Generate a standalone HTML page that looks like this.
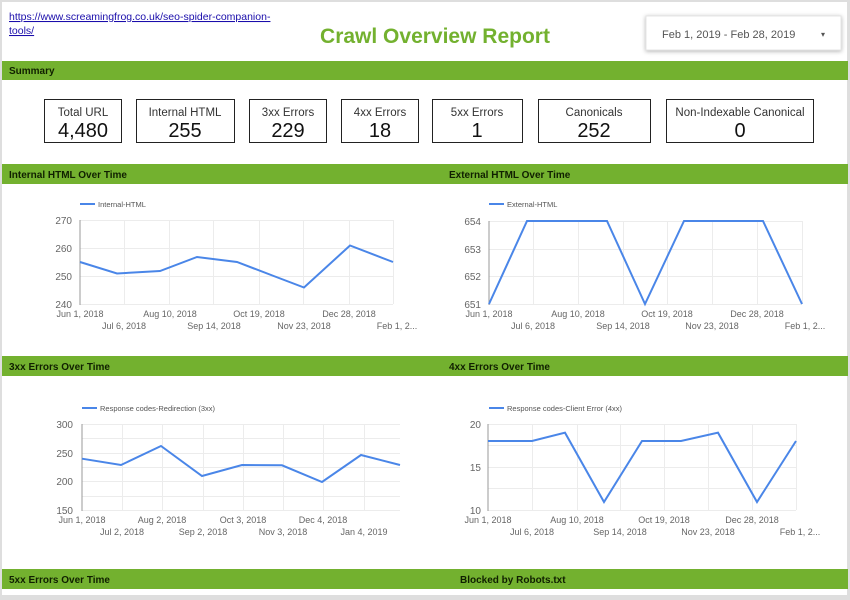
<!DOCTYPE html>
<html><head><style>
body{margin:0;width:850px;height:595px;overflow:hidden;background:#dedede;font-family:"Liberation Sans",sans-serif}
</style></head><body>
<svg width="850" height="595" xmlns="http://www.w3.org/2000/svg" font-family="Liberation Sans, sans-serif">
<rect x="2" y="2" width="845" height="593" fill="#fff"/>
<text x="9" y="20" font-size="10.5" fill="#1a0dab" text-decoration="underline">https://www.screamingfrog.co.uk/seo-spider-companion-</text>
<text x="9" y="34" font-size="10.5" fill="#1a0dab" text-decoration="underline">tools/</text>
<text x="435" y="43" font-size="21" font-weight="bold" fill="#73b12f" text-anchor="middle">Crawl Overview Report</text>
<rect x="646" y="16" width="195" height="34" fill="#fff" stroke="#e4e4e4" style="filter:drop-shadow(0 1px 2px rgba(0,0,0,0.3))"/>
<text x="662" y="38" font-size="11" fill="#555">Feb 1, 2019 - Feb 28, 2019</text>
<text x="821" y="37" font-size="8" fill="#555">▾</text>
<g fill="#73b12f">
<rect x="2" y="61" width="846" height="19"/>
<rect x="2" y="164" width="846" height="20"/>
<rect x="2" y="356" width="846" height="20"/>
<rect x="2" y="569" width="846" height="20"/>
</g>
<g font-size="10" font-weight="bold" fill="#102000">
<text x="9" y="74">Summary</text>
<text x="9" y="178">Internal HTML Over Time</text>
<text x="449" y="178">External HTML Over Time</text>
<text x="9" y="370">3xx Errors Over Time</text>
<text x="449" y="370">4xx Errors Over Time</text>
<text x="9" y="583">5xx Errors Over Time</text>
<text x="460" y="583">Blocked by Robots.txt</text>
</g>
<g fill="#fff" stroke="#222" stroke-width="1">
<rect x="44.5" y="99.5" width="77" height="43"/>
<rect x="136.5" y="99.5" width="98" height="43"/>
<rect x="249.5" y="99.5" width="77" height="43"/>
<rect x="341.5" y="99.5" width="77" height="43"/>
<rect x="432.5" y="99.5" width="90" height="43"/>
<rect x="538.5" y="99.5" width="112" height="43"/>
<rect x="666.5" y="99.5" width="147" height="43"/>
</g>
<g font-size="11.5" fill="#333" text-anchor="middle">
<text x="83" y="116">Total URL</text><text x="185" y="116">Internal HTML</text><text x="288" y="116">3xx Errors</text><text x="380" y="116">4xx Errors</text><text x="477" y="116">5xx Errors</text><text x="594" y="116">Canonicals</text><text x="740" y="116">Non-Indexable Canonical</text>
</g>
<g font-size="20" fill="#111" text-anchor="middle">
<text x="83" y="137">4,480</text><text x="185" y="137">255</text><text x="288" y="137">229</text><text x="380" y="137">18</text><text x="477" y="137">1</text><text x="594" y="137">252</text><text x="740" y="137">0</text>
</g>

<!-- Chart 1 -->
<g stroke="#ececec" stroke-width="1">
<line x1="80" y1="220.5" x2="393" y2="220.5"/><line x1="80" y1="248.5" x2="393" y2="248.5"/><line x1="80" y1="276.5" x2="393" y2="276.5"/><line x1="80" y1="304.5" x2="393" y2="304.5"/>
<line x1="124.5" y1="220" x2="124.5" y2="304"/><line x1="169.5" y1="220" x2="169.5" y2="304"/><line x1="213.5" y1="220" x2="213.5" y2="304"/><line x1="259.5" y1="220" x2="259.5" y2="304"/><line x1="303.5" y1="220" x2="303.5" y2="304"/><line x1="349.5" y1="220" x2="349.5" y2="304"/><line x1="393.5" y1="220" x2="393.5" y2="304"/>
</g>
<line x1="80" y1="220" x2="80" y2="305" stroke="#999"/>
<polyline fill="none" stroke="#4a86e8" stroke-width="2" points="80,262 117,273.5 160,271 197,257 237,262 275,276.5 304,287.5 350,245.5 393,262"/>
<line x1="80" y1="204" x2="95" y2="204" stroke="#4a86e8" stroke-width="2"/>
<text x="98" y="207" font-size="7.5" fill="#555">Internal-HTML</text>
<g font-size="10" fill="#666" text-anchor="end"><text x="72" y="224">270</text><text x="72" y="252">260</text><text x="72" y="280">250</text><text x="72" y="308">240</text></g>
<g font-size="9" fill="#666" text-anchor="middle">
<text x="80" y="317">Jun 1, 2018</text><text x="170" y="317">Aug 10, 2018</text><text x="259" y="317">Oct 19, 2018</text><text x="349" y="317">Dec 28, 2018</text>
<text x="124" y="329">Jul 6, 2018</text><text x="214" y="329">Sep 14, 2018</text><text x="304" y="329">Nov 23, 2018</text><text x="397" y="329">Feb 1, 2...</text>
</g>

<!-- Chart 2 -->
<g stroke="#ececec">
<line x1="489" y1="221.5" x2="802" y2="221.5"/><line x1="489" y1="249.5" x2="802" y2="249.5"/><line x1="489" y1="276.5" x2="802" y2="276.5"/><line x1="489" y1="304.5" x2="802" y2="304.5"/>
<line x1="533.5" y1="221" x2="533.5" y2="304"/><line x1="578.5" y1="221" x2="578.5" y2="304"/><line x1="623.5" y1="221" x2="623.5" y2="304"/><line x1="667.5" y1="221" x2="667.5" y2="304"/><line x1="712.5" y1="221" x2="712.5" y2="304"/><line x1="757.5" y1="221" x2="757.5" y2="304"/><line x1="802.5" y1="221" x2="802.5" y2="304"/>
</g>
<line x1="489" y1="221" x2="489" y2="305" stroke="#999"/>
<polyline fill="none" stroke="#4a86e8" stroke-width="2" points="489,304 527,221 607,221 645,304 684,221 763,221 802,304"/>
<line x1="489" y1="204" x2="504" y2="204" stroke="#4a86e8" stroke-width="2"/>
<text x="507" y="207" font-size="7.5" fill="#555">External-HTML</text>
<g font-size="10" fill="#666" text-anchor="end"><text x="481" y="225">654</text><text x="481" y="253">653</text><text x="481" y="280">652</text><text x="481" y="308">651</text></g>
<g font-size="9" fill="#666" text-anchor="middle">
<text x="489" y="317">Jun 1, 2018</text><text x="578" y="317">Aug 10, 2018</text><text x="667" y="317">Oct 19, 2018</text><text x="757" y="317">Dec 28, 2018</text>
<text x="533" y="329">Jul 6, 2018</text><text x="623" y="329">Sep 14, 2018</text><text x="712" y="329">Nov 23, 2018</text><text x="805" y="329">Feb 1, 2...</text>
</g>

<!-- Chart 3 -->
<g stroke="#ececec">
<line x1="82" y1="424.5" x2="400" y2="424.5"/><line x1="82" y1="438.5" x2="400" y2="438.5"/><line x1="82" y1="453.5" x2="400" y2="453.5"/><line x1="82" y1="467.5" x2="400" y2="467.5"/><line x1="82" y1="481.5" x2="400" y2="481.5"/><line x1="82" y1="496.5" x2="400" y2="496.5"/><line x1="82" y1="510.5" x2="400" y2="510.5"/>
<line x1="122.5" y1="424" x2="122.5" y2="510"/><line x1="162.5" y1="424" x2="162.5" y2="510"/><line x1="203.5" y1="424" x2="203.5" y2="510"/><line x1="243.5" y1="424" x2="243.5" y2="510"/><line x1="283.5" y1="424" x2="283.5" y2="510"/><line x1="323.5" y1="424" x2="323.5" y2="510"/><line x1="364.5" y1="424" x2="364.5" y2="510"/>
</g>
<line x1="82" y1="424" x2="82" y2="511" stroke="#999"/>
<polyline fill="none" stroke="#4a86e8" stroke-width="2" points="82,458.7 121,465 161,446 202,476 242,465 282,465.3 322,482 361,455 400,465"/>
<line x1="82" y1="408" x2="97" y2="408" stroke="#4a86e8" stroke-width="2"/>
<text x="100" y="411" font-size="7.5" fill="#555">Response codes-Redirection (3xx)</text>
<g font-size="10" fill="#666" text-anchor="end"><text x="73" y="428">300</text><text x="73" y="457">250</text><text x="73" y="485">200</text><text x="73" y="514">150</text></g>
<g font-size="9" fill="#666" text-anchor="middle">
<text x="82" y="523">Jun 1, 2018</text><text x="162" y="523">Aug 2, 2018</text><text x="243" y="523">Oct 3, 2018</text><text x="323" y="523">Dec 4, 2018</text>
<text x="122" y="535">Jul 2, 2018</text><text x="203" y="535">Sep 2, 2018</text><text x="283" y="535">Nov 3, 2018</text><text x="364" y="535">Jan 4, 2019</text>
</g>

<!-- Chart 4 -->
<g stroke="#ececec">
<line x1="488" y1="424.5" x2="796" y2="424.5"/><line x1="488" y1="445.5" x2="796" y2="445.5"/><line x1="488" y1="467.5" x2="796" y2="467.5"/><line x1="488" y1="488.5" x2="796" y2="488.5"/><line x1="488" y1="510.5" x2="796" y2="510.5"/>
<line x1="532.5" y1="424" x2="532.5" y2="510"/><line x1="577.5" y1="424" x2="577.5" y2="510"/><line x1="620.5" y1="424" x2="620.5" y2="510"/><line x1="664.5" y1="424" x2="664.5" y2="510"/><line x1="708.5" y1="424" x2="708.5" y2="510"/><line x1="752.5" y1="424" x2="752.5" y2="510"/><line x1="796.5" y1="424" x2="796.5" y2="510"/>
</g>
<line x1="488" y1="424" x2="488" y2="511" stroke="#999"/>
<polyline fill="none" stroke="#4a86e8" stroke-width="2" points="488,441 532,441 565,432.7 604,502 642,441 681,441 718,432.7 757,502 796,441"/>
<line x1="489" y1="408" x2="504" y2="408" stroke="#4a86e8" stroke-width="2"/>
<text x="507" y="411" font-size="7.5" fill="#555">Response codes-Client Error (4xx)</text>
<g font-size="10" fill="#666" text-anchor="end"><text x="481" y="428">20</text><text x="481" y="471">15</text><text x="481" y="514">10</text></g>
<g font-size="9" fill="#666" text-anchor="middle">
<text x="488" y="523">Jun 1, 2018</text><text x="577" y="523">Aug 10, 2018</text><text x="664" y="523">Oct 19, 2018</text><text x="752" y="523">Dec 28, 2018</text>
<text x="532" y="535">Jul 6, 2018</text><text x="620" y="535">Sep 14, 2018</text><text x="708" y="535">Nov 23, 2018</text><text x="800" y="535">Feb 1, 2...</text>
</g>
</svg>
</body></html>
